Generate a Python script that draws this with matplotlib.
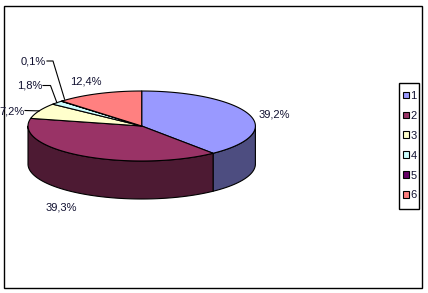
import numpy as np
import matplotlib
matplotlib.use('Agg')
import matplotlib.pyplot as plt
from matplotlib.patches import Polygon, Rectangle, Patch
from matplotlib.colors import to_rgb

# ---- data ----
categories = ['1', '2', '3', '4', '5', '6']
shares = [39.2, 39.3, 7.2, 1.8, 0.1, 12.4]
label_texts = ['39,2%', '39,3%', '7,2%', '1,8%', '0,1%', '12,4%']
top_colors = ['#9999FF', '#993366', '#FFFFCC', '#CCFFFF', '#660066', '#FF8080']

plt.rcParams['font.family'] = ['Liberation Sans', 'DejaVu Sans']

W, H = 428, 293
fig = plt.figure(figsize=(W / 100, H / 100), dpi=100)
ax = fig.add_axes([0, 0, 1, 1])
ax.set_xlim(0, W)
ax.set_ylim(H, 0)
ax.axis('off')

# outer chart border
ax.add_patch(Rectangle((4.5, 5.5), 418, 282, fill=False, edgecolor='black', lw=1.0))

# pie geometry (pixels)
cx, cy, a, b, depth = 141.7, 126.0, 113.7, 35.0, 38.0
text_color = '#101030'
fs = 8.0


def pt(theta_deg, dy=0.0):
    t = np.radians(theta_deg)
    return cx + a * np.cos(t), cy - b * np.sin(t) + dy


def arc(t1, t2, dy=0.0):
    n = max(2, int(abs(t2 - t1) / 1.0) + 2)
    ts = np.linspace(t1, t2, n)
    xs, ys = pt(ts, dy)
    return np.column_stack([xs, ys])


total = sum(shares)
fracs = np.array(shares) / total
cum = np.concatenate([[0], np.cumsum(fracs)])
starts = 90 - cum[:-1] * 360
ends = 90 - cum[1:] * 360
mids = (starts + ends) / 2

# side walls (front half only)
for s, e, col in zip(starts, ends, top_colors):
    side = tuple(np.array(to_rgb(col)) * 0.5)
    for k in range(-2, 2):
        lo, hi = -180 + 360 * k, 360 * k
        t_hi, t_lo = min(s, hi), max(e, lo)
        if t_hi > t_lo:
            top = arc(t_hi, t_lo)
            bot = arc(t_lo, t_hi, depth)
            ax.add_patch(Polygon(np.vstack([top, bot]), closed=True, facecolor=side,
                                 edgecolor='black', lw=0.8, joinstyle='round'))

# top faces
for s, e, col in zip(starts, ends, top_colors):
    pts = np.vstack([[[cx, cy]], arc(s, e)])
    ax.add_patch(Polygon(pts, closed=True, facecolor=col, edgecolor='black', lw=0.8,
                         joinstyle='round'))

# labels
# 1
x, y = pt(mids[0])
ax.text(x + 10, y + 0.5, label_texts[0], ha='left', va='center', fontsize=fs, color=text_color)
# 2
x, y = pt(mids[1], depth)
ax.text(x - 20, y + 14, label_texts[1], ha='center', va='center', fontsize=fs, color=text_color)
# 3 with leader
x, y = pt(mids[2])
ax.plot([25, x], [110.5, y], color='black', lw=0.8)
ax.text(24.5, 111, label_texts[2], ha='right', va='center', fontsize=fs, color=text_color)
# 4 with elbow leader
x, y = pt(mids[3])
ax.plot([43, 50.5, x], [85.5, 85.5, y], color='black', lw=0.8)
ax.text(42, 85.5, label_texts[3], ha='right', va='center', fontsize=fs, color=text_color)
# 5 with elbow leader
x, y = pt(mids[4])
ax.plot([47, 53, x + 3], [61, 61, y - 2], color='black', lw=0.8)
ax.text(46, 61, label_texts[4], ha='right', va='center', fontsize=fs, color=text_color)
# 6
x, y = pt(mids[5])
ax.text(x - 13, y - 12, label_texts[5], ha='center', va='center', fontsize=fs, color=text_color)

# legend (entries by matplotlib, frame drawn as a box)
ax.add_patch(Rectangle((399.5, 82.5), 20, 126, fill=False, edgecolor='black', lw=1.0))
handles = [Patch(facecolor=c, edgecolor='black', lw=0.8) for c in top_colors]
leg = ax.legend(handles, categories, loc='upper left',
                bbox_to_anchor=(403 / W, 1 - 91 / H), bbox_transform=fig.transFigure,
                fontsize=fs, frameon=False, handlelength=0.55, handleheight=0.55,
                handletextpad=0.12, labelspacing=0.89, borderpad=0, borderaxespad=0)
for t in leg.get_texts():
    t.set_color(text_color)

fig.savefig('out.png', dpi=100)
